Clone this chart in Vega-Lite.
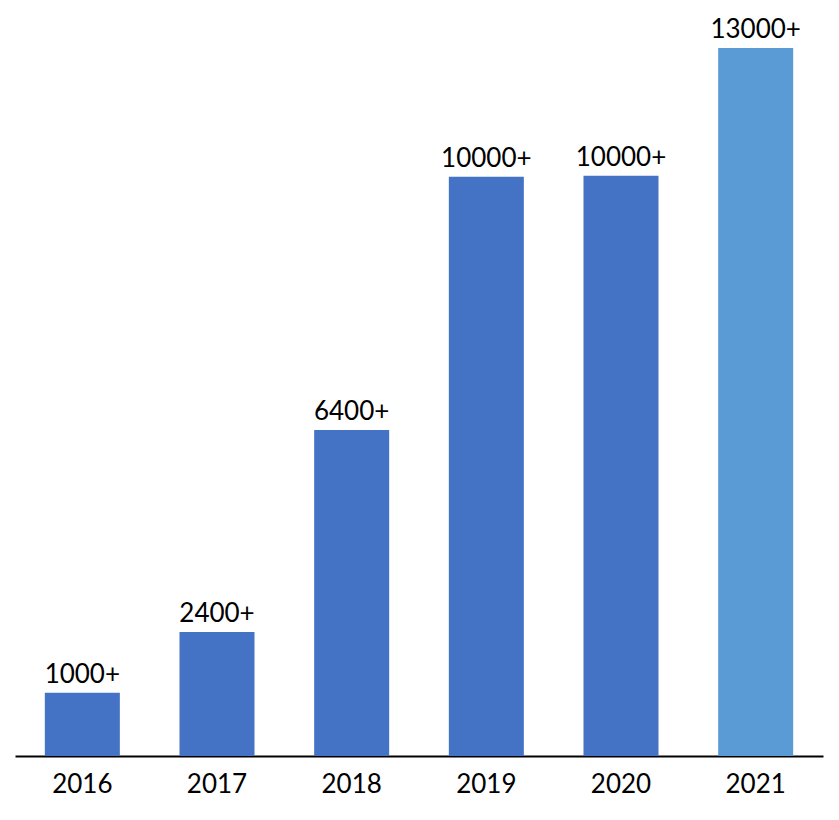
{
  "$schema": "https://vega.github.io/schema/vega-lite/v6.json",
  "width": 808,
  "height": 708,
  "autosize": {"type": "none"},
  "padding": {"left": 15, "top": 48, "right": 16, "bottom": 64},
  "background": "white",
  "config": {"view": {"stroke": null}, "font": "Lato"},
  "data": {"values": [
    {"year": "2016", "value": 1163, "label": "1000+", "highlight": "no"},
    {"year": "2017", "value": 2278, "label": "2400+", "highlight": "no"},
    {"year": "2018", "value": 5988, "label": "6400+", "highlight": "no"},
    {"year": "2019", "value": 10636, "label": "10000+", "highlight": "no"},
    {"year": "2020", "value": 10654, "label": "10000+", "highlight": "no"},
    {"year": "2021", "value": 13000, "label": "13000+", "highlight": "yes"}
  ]},
  "encoding": {
    "x": {"field": "year", "type": "ordinal", "scale": {"paddingInner": 0.443, "paddingOuter": 0.2215},
      "axis": {"title": null, "labelAngle": 0, "labelFontSize": 26, "labelColor": "black", "labelPadding": 15, "ticks": false, "domainColor": "black", "domainWidth": 2, "grid": false}},
    "y": {"field": "value", "type": "quantitative", "scale": {"domain": [0, 13000], "nice": false}, "axis": null}
  },
  "layer": [
    {"mark": {"type": "bar"},
     "encoding": {"color": {"field": "highlight", "type": "nominal", "scale": {"domain": ["no", "yes"], "range": ["#4472C4", "#5B9BD5"]}, "legend": null}}},
    {"mark": {"type": "text", "baseline": "alphabetic", "dy": -10, "fontSize": 26, "color": "black"},
     "encoding": {"text": {"field": "label"}}}
  ]
}
